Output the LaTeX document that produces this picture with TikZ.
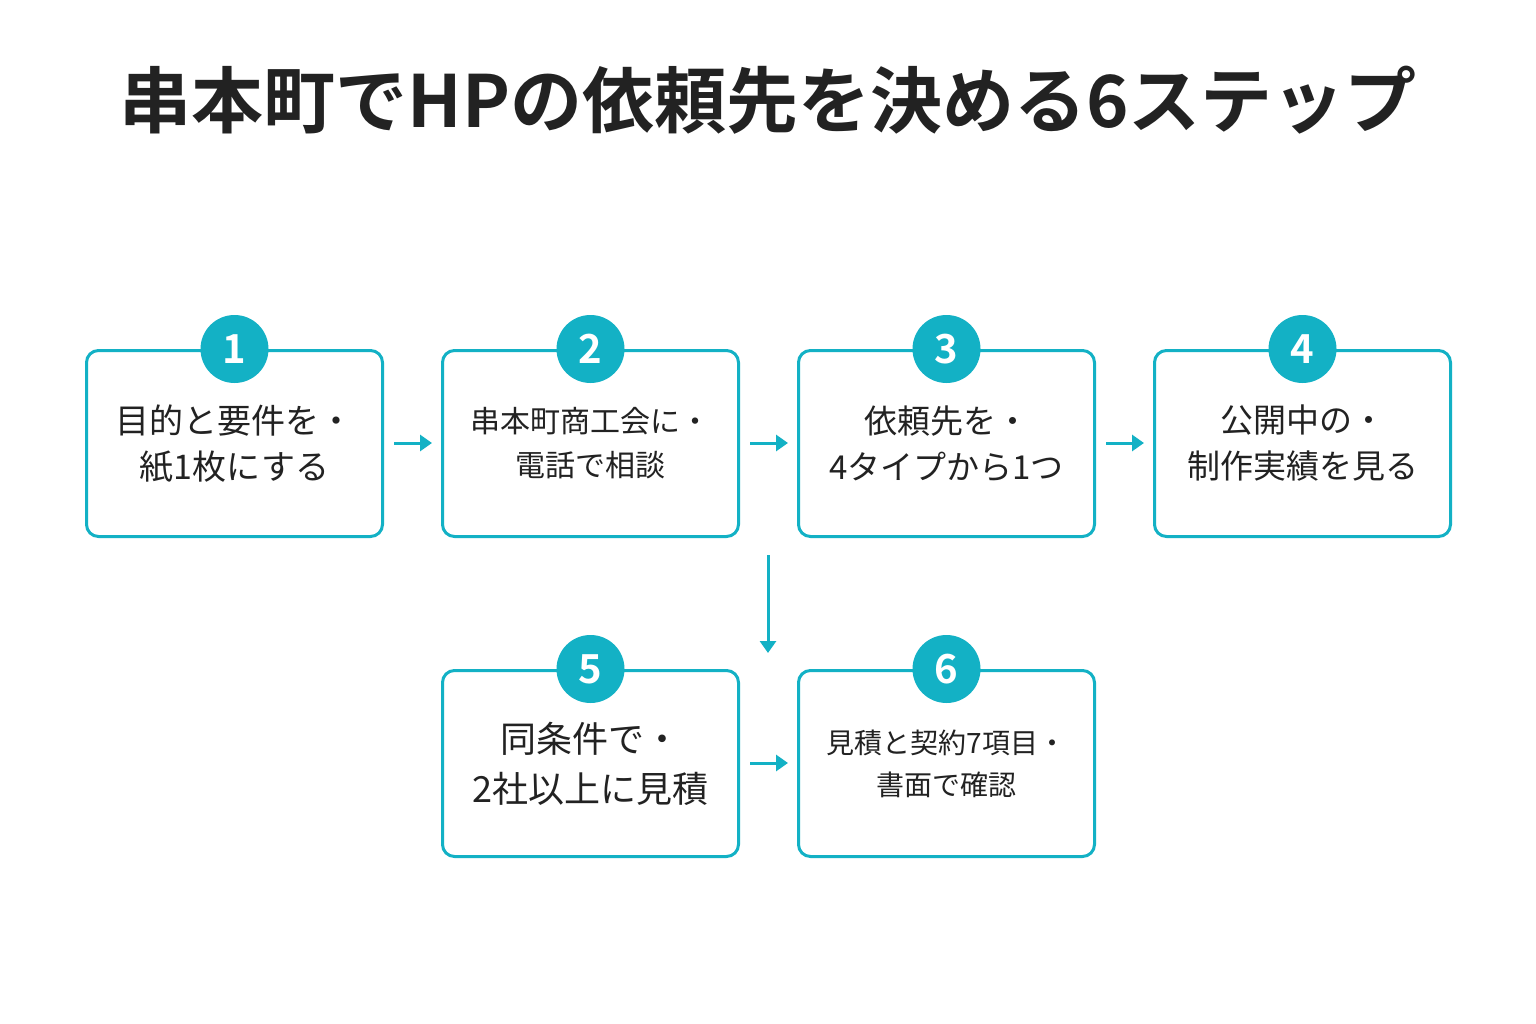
\documentclass[tikz,border=0pt]{standalone}
\usepackage{fontspec}
\setmainfont{Noto Sans CJK JP}
\newfontfamily\bfj{Noto Sans CJK JP Bold}
\usetikzlibrary{arrows.meta}
\definecolor{tl}{HTML}{13B1C5}
\definecolor{tx}{HTML}{222222}
\begin{document}
\begin{tikzpicture}[x=1pt,y=-1pt,
 box/.style={draw=tl,line width=3pt,rounded corners=12pt,minimum width=296pt,minimum height=186pt,text=tx,align=center,inner sep=0pt},
 num/.style={circle,fill=tl,minimum size=68pt,inner sep=0pt,text=white,font=\bfj\fontsize{40}{40}\selectfont},
 arr/.style={draw=tl,line width=3pt,-{Triangle[length=12pt,width=16pt]}}]
\useasboundingbox[fill=white] (0,0) rectangle (1536,1024);
\node[text=tx,font=\bfj\fontsize{72}{72}\selectfont] (t) at (768,100) {串本町でHPの依頼先を決める6ステップ};
\node[box,font=\fontsize{34}{46}\selectfont] (b1) at (234.5,443.5) {目的と要件を・\\紙1枚にする};
\node[box,font=\fontsize{30}{44}\selectfont] (b2) at (590.5,443.5) {串本町商工会に・\\電話で相談};
\node[box,font=\fontsize{33}{46}\selectfont] (b3) at (946.5,443.5) {依頼先を・\\4タイプから1つ};
\node[box,font=\fontsize{33}{46}\selectfont] (b4) at (1302.5,443.5) {公開中の・\\制作実績を見る};
\node[box,font=\fontsize{36}{50}\selectfont] (b5) at (590.5,763.5) {同条件で・\\2社以上に見積};
\node[box,font=\fontsize{28}{42}\selectfont] (b6) at (946.5,763.5) {見積と契約7項目・\\書面で確認};
\foreach \b/\n in {b1/1,b2/2,b3/3,b4/4,b5/5,b6/6} \node[num] (n\n) at (\b.north) {\n};
\coordinate (a1) at (394,443); \coordinate (a2) at (432,443);
\coordinate (c1) at (750,443); \coordinate (c2) at (788,443);
\coordinate (d1) at (1106,443); \coordinate (d2) at (1144,443);
\coordinate (v1) at (768,555); \coordinate (v2) at (768,653);
\coordinate (e1) at (750,763); \coordinate (e2) at (788,763);
\draw[arr] (a1)--(a2); \draw[arr] (c1)--(c2); \draw[arr] (d1)--(d2);
\draw[arr] (v1)--(v2); \draw[arr] (e1)--(e2);
\end{tikzpicture}
\end{document}
